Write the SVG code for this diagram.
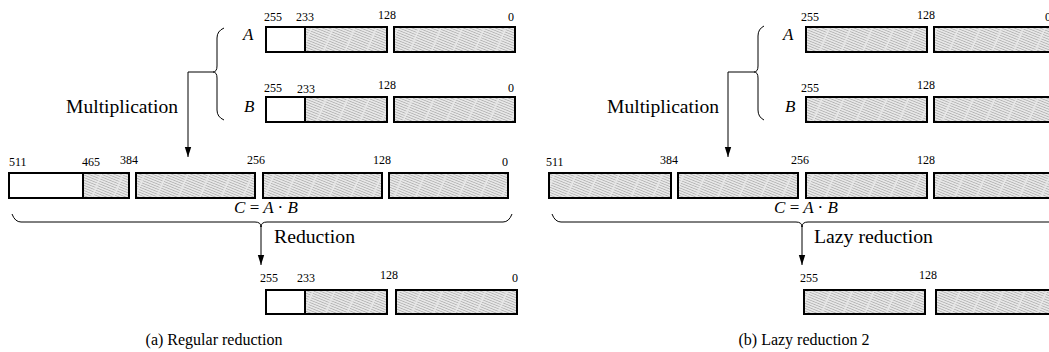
<svg xmlns="http://www.w3.org/2000/svg" width="1049" height="352" viewBox="0 0 1049 352">
<style>
.num{font-family:"Liberation Serif","DejaVu Serif",serif;font-size:12px;fill:#000}
.lbl{font-family:"Liberation Serif","DejaVu Serif",serif;font-size:18px;fill:#000}
.it{font-family:"Liberation Serif","DejaVu Serif",serif;font-size:17px;font-style:italic;fill:#000}
.up{font-style:normal}
.cap{font-family:"Liberation Serif","DejaVu Serif",serif;font-size:16px;fill:#000}
.box{stroke:#000;stroke-width:2;fill:url(#hatch)}
.wbox{stroke:#000;stroke-width:2;fill:#fff}
.div{stroke:#000;stroke-width:1.5}
.con{fill:none;stroke:#000;stroke-width:1}
</style>
<defs>
<pattern id="hatch" patternUnits="userSpaceOnUse" width="20" height="2.4" patternTransform="rotate(22)">
<rect width="20" height="2.4" fill="#e8e8e8"/>
<line x1="0" y1="1.2" x2="18.5" y2="1.2" stroke="#a4a4a4" stroke-width="0.7"/>
</pattern>
<marker id="arr" markerUnits="userSpaceOnUse" markerWidth="10" markerHeight="10" viewBox="0 0 10 10" refX="10" refY="5" orient="auto">
<path d="M0,1.8 L10,5 L0,8.2 Z" fill="#000"/>
</marker>
</defs>

<g id="connectors">
<path class="con" d="M224,28 Q217,31 217,38 V66 Q217,72 213,72 Q217,72 217,78 V110 Q217,117 224,120"/>
<path class="con" d="M213,72 H188 V157" marker-end="url(#arr)"/>
<path class="con" d="M12,214 Q15,222 21,222 H255 Q261,222 261,227 Q261,222 267,222 H503 Q509,222 512,214"/>
<path class="con" d="M261,226 V265" marker-end="url(#arr)"/>
<path class="con" d="M764,26 Q758,29 758,36 V66 Q758,72 754,72 Q758,72 758,78 V110 Q758,117 764,120"/>
<path class="con" d="M754,72 H728 V157" marker-end="url(#arr)"/>
<path class="con" d="M552,214 Q555,222 561,222 H796 Q802,222 802,227 Q802,222 808,222 H1049"/>
<path class="con" d="M802,226 V265" marker-end="url(#arr)"/>
</g>

<g id="label-mult-a"><text class="lbl" x="66" y="113" textLength="112" lengthAdjust="spacingAndGlyphs">Multiplication</text></g>
<g id="label-red-a"><text class="lbl" x="274" y="243" textLength="81" lengthAdjust="spacingAndGlyphs">Reduction</text></g>
<g id="label-mult-b"><text class="lbl" x="607" y="113" textLength="112" lengthAdjust="spacingAndGlyphs">Multiplication</text></g>
<g id="label-red-b"><text class="lbl" x="814" y="243" textLength="119" lengthAdjust="spacingAndGlyphs">Lazy reduction</text></g>

<g id="A-left">
<text class="it" x="243" y="40">A</text>
<rect class="wbox" x="266" y="27" width="121" height="25"/>
<rect class="box" x="305" y="27" width="82" height="25"/>
<line class="div" x1="305" y1="27" x2="305" y2="52"/>
<rect class="box" x="394" y="27" width="121" height="25"/>
<text class="num" x="264" y="21">255</text>
<text class="num" x="296" y="21">233</text>
<text class="num" x="378" y="19">128</text>
<text class="num" x="508" y="21">0</text>
</g>
<g id="B-left">
<text class="it" x="244" y="112">B</text>
<rect class="wbox" x="266" y="97" width="121" height="25"/>
<rect class="box" x="305" y="97" width="82" height="25"/>
<line class="div" x1="305" y1="97" x2="305" y2="122"/>
<rect class="box" x="394" y="97" width="121" height="25"/>
<text class="num" x="264" y="92">255</text>
<text class="num" x="297" y="93">233</text>
<text class="num" x="378" y="89">128</text>
<text class="num" x="508" y="92">0</text>
</g>
<g id="C-left">
<rect class="wbox" x="9" y="173" width="120" height="25"/>
<rect class="box" x="83" y="173" width="46" height="25"/>
<line class="div" x1="83" y1="173" x2="83" y2="198"/>
<rect class="box" x="136" y="173" width="119" height="25"/>
<rect class="box" x="263" y="173" width="119" height="25"/>
<rect class="box" x="389" y="173" width="119" height="25"/>
<text class="num" x="9" y="166">511</text>
<text class="num" x="82" y="166">465</text>
<text class="num" x="120" y="164">384</text>
<text class="num" x="247" y="164">256</text>
<text class="num" x="373" y="164">128</text>
<text class="num" x="502" y="166">0</text>
<text class="it" x="266" y="213" text-anchor="middle">C <tspan class="up">=</tspan> A <tspan class="up">·</tspan> B</text>
</g>
<g id="R-left">
<rect class="wbox" x="266" y="290" width="121" height="24"/>
<rect class="box" x="305" y="290" width="82" height="24"/>
<line class="div" x1="305" y1="290" x2="305" y2="314"/>
<rect class="box" x="396" y="290" width="121" height="24"/>
<text class="num" x="260" y="282">255</text>
<text class="num" x="297" y="282">233</text>
<text class="num" x="380" y="279">128</text>
<text class="num" x="512" y="282">0</text>
</g>
<g id="caption-a"><text class="cap" x="214" y="345" text-anchor="middle">(a) Regular reduction</text></g>

<g id="A-right">
<text class="it" x="783" y="40">A</text>
<rect class="box" x="806" y="27" width="121" height="25"/>
<rect class="box" x="934" y="27" width="130" height="25"/>
<text class="num" x="801" y="21">255</text>
<text class="num" x="917" y="19">128</text>
<text class="num" x="1045" y="21">0</text>
</g>
<g id="B-right">
<text class="it" x="785" y="112">B</text>
<rect class="box" x="806" y="97" width="121" height="25"/>
<rect class="box" x="934" y="97" width="130" height="25"/>
<text class="num" x="801" y="92">255</text>
<text class="num" x="917" y="89">128</text>
</g>
<g id="C-right">
<rect class="box" x="549" y="173" width="122" height="25"/>
<rect class="box" x="678" y="173" width="120" height="25"/>
<rect class="box" x="806" y="173" width="121" height="25"/>
<rect class="box" x="934" y="173" width="130" height="25"/>
<text class="num" x="546" y="166">511</text>
<text class="num" x="660" y="164">384</text>
<text class="num" x="791" y="164">256</text>
<text class="num" x="917" y="164">128</text>
<text class="it" x="806" y="213" text-anchor="middle">C <tspan class="up">=</tspan> A <tspan class="up">·</tspan> B</text>
</g>
<g id="R-right">
<rect class="box" x="804" y="290" width="121" height="24"/>
<rect class="box" x="936" y="290" width="130" height="24"/>
<text class="num" x="800" y="282">255</text>
<text class="num" x="919" y="279">128</text>
</g>
<g id="caption-b"><text class="cap" x="804" y="345" text-anchor="middle">(b) Lazy reduction 2</text></g>
</svg>
